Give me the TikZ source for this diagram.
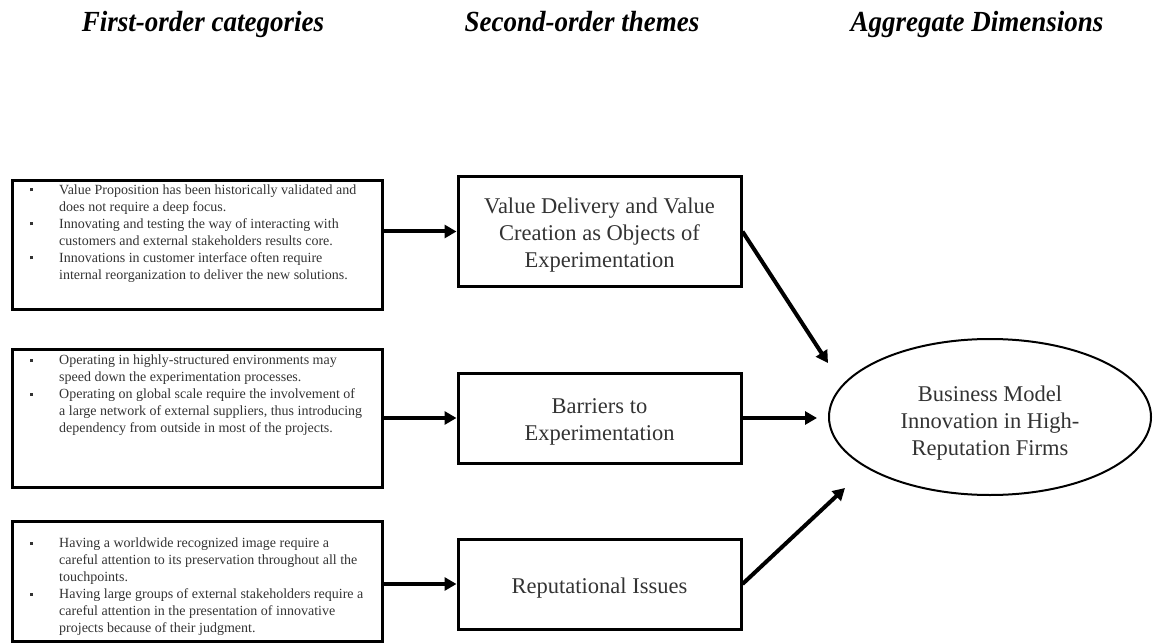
\documentclass[tikz,border=0pt]{standalone}
\usepackage{fontspec}
\usepackage{graphicx}
\setmainfont{Liberation Serif}
\usetikzlibrary{arrows.meta,shapes.geometric,positioning}
\definecolor{bodygray}{HTML}{333333}

% bullet for the category lists
\newcommand{\catbullet}{\raisebox{3pt}{\rule{3pt}{3pt}}}
% centred lines, set a little lower inside their shape
\newcommand{\lowered}[2]{\raisebox{-#1}[\height][\depth]{\begin{tabular}{@{}c@{}}#2\end{tabular}}}

\begin{document}
\begin{tikzpicture}[x=1pt, y=-1pt,
    header/.style={font=\fontsize{27}{32}\selectfont\bfseries\itshape, anchor=base, inner sep=0pt},
    catbox/.style={draw, line width=3pt, minimum width=370pt, inner sep=0pt},
    cattext/.style={text=bodygray, font=\fontsize{14}{17}\selectfont, anchor=west, inner sep=0pt},
    themebox/.style={draw, line width=3pt, minimum width=283pt, inner sep=0pt,
      text=bodygray, font=\fontsize{22.5}{27}\selectfont},
    link/.style={line width=4pt, -{Triangle[length=12pt,width=13pt]}}]

  \useasboundingbox (0,0) rectangle (1153,644);

  % column headers
  \node[header] (h1) at (203,32) {\scalebox{1}[1.08]{First-order categories}};
  \node[header] (h2) at (582,32) {\scalebox{1}[1.08]{Second-order themes}};
  \node[header] (h3) at (977,32) {\scalebox{1}[1.08]{Aggregate Dimensions}};

  % first-order boxes
  \node[catbox, minimum height=128pt] (cat1) at (197,245) {};
  \node[catbox, minimum height=138pt] (cat2) at (197,418) {};
  \node[catbox, minimum height=120pt] (cat3) at (197,581) {};

  \node[cattext] (txt1) at (29.5,233.5) {\begin{tabular}{@{}p{29.5pt}@{}l@{}}
    \catbullet & Value Proposition has been historically validated and\\
               & does not require a deep focus.\\
    \catbullet & Innovating and testing the way of interacting with\\
               & customers and external stakeholders results core.\\
    \catbullet & Innovations in customer interface often require\\
               & internal reorganization to deliver the new solutions.
  \end{tabular}};
  \node[cattext] (txt2) at (29.5,395.5) {\begin{tabular}{@{}p{29.5pt}@{}l@{}}
    \catbullet & Operating in highly-structured environments may\\
               & speed down the experimentation processes.\\
    \catbullet & Operating on global scale require the involvement of\\
               & a large network of external suppliers, thus introducing\\
               & dependency from outside in most of the projects.
  \end{tabular}};
  \node[cattext] (txt3) at (29.5,587) {\begin{tabular}{@{}p{29.5pt}@{}l@{}}
    \catbullet & Having a worldwide recognized image require a\\
               & careful attention to its preservation throughout all the\\
               & touchpoints.\\
    \catbullet & Having large groups of external stakeholders require a\\
               & careful attention in the presentation of innovative\\
               & projects because of their judgment.
  \end{tabular}};

  % second-order themes
  \node[themebox, minimum height=109pt] (th1) at (599.5,231.5)
    {\lowered{4pt}{Value Delivery and Value\\Creation as Objects of\\Experimentation}};
  \node[themebox, minimum height=90pt] (th2) at (599.5,418)
    {\lowered{4pt}{Barriers to\\Experimentation}};
  \node[themebox, minimum height=90pt] (th3) at (599.5,584)
    {\lowered{4pt}{Reputational Issues}};

  % aggregate dimension
  \node[ellipse, draw, line width=2pt, minimum width=322pt, minimum height=156pt,
    inner sep=0pt, text=bodygray, font=\fontsize{22.5}{27}\selectfont]
    (agg) at (990,417) {\lowered{6pt}{Business Model\\Innovation in High-\\Reputation Firms}};

  \coordinate (tipA) at (828,363);
  \coordinate (tipB) at (817,418);
  \coordinate (tipC) at (845,488);

  % links
  \draw[link] (cat1.east |- th1.west) -- (th1.west);
  \draw[link] (cat2.east |- th2.west) -- (th2.west);
  \draw[link] (cat3.east |- th3.west) -- (th3.west);
  \draw[link] (th1.east) -- (tipA);
  \draw[link] (th2.east) -- (tipB);
  \draw[link] (th3.east) -- (tipC);

\end{tikzpicture}
\end{document}
